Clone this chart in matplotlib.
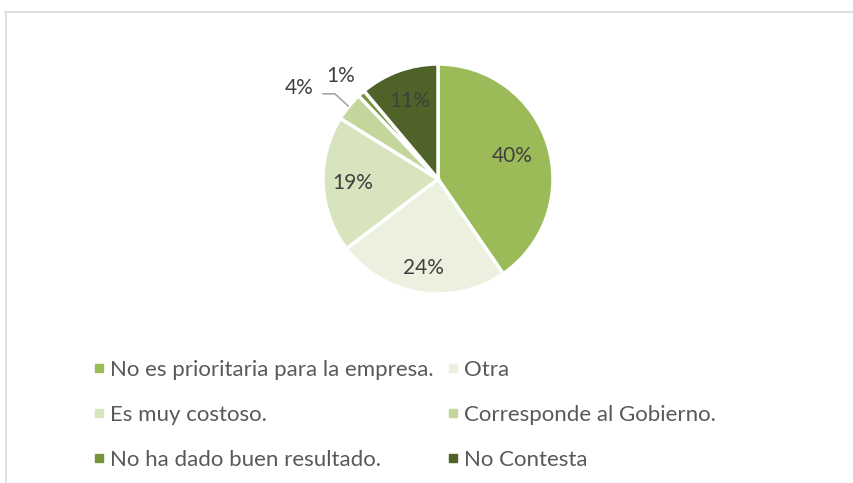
import matplotlib.pyplot as plt
import numpy as np
from matplotlib.lines import Line2D

plt.rcParams['font.family'] = ['Lato', 'DejaVu Sans']

categories = ["No es prioritaria para la empresa.", "Otra", "Es muy costoso.",
              "Corresponde al Gobierno.", "No ha dado buen resultado.", "No Contesta"]
values = [40, 24, 19, 4, 1, 11]
colors = ["#9BBB59", "#EBF1DE", "#D7E4BD", "#C3D69B", "#77933C", "#4F6228"]

W, H = 854, 483
fig = plt.figure(figsize=(W / 100, H / 100), dpi=100)

# outer chart border (light gray), only top and left visible
fig.add_artist(Line2D([5 / W, 1], [1 - 12 / H, 1 - 12 / H], color="#D9D9D9", lw=1.2))
fig.add_artist(Line2D([6 / W, 6 / W], [0, 1 - 12 / H], color="#D9D9D9", lw=1.2))

# pie: center (438,179) px, radius 115 px
r = 115
cx, cy = 438, H - 179
half = 1.5 * r
ax = fig.add_axes([(cx - half) / W, (cy - half) / H, 2 * half / W, 2 * half / H])
wedges, _ = ax.pie(values, colors=colors, startangle=90, counterclock=False,
                   wedgeprops=dict(edgecolor="white", linewidth=2.5))
ax.set_xlim(-1.5, 1.5)
ax.set_ylim(-1.5, 1.5)
ax.set_aspect("equal")
ax.axis("off")

txt_color = "#404040"
fs = 15
label_dist = [0.68, 0.78, 0.74, None, None, 0.72]
for w, v, d in zip(wedges, values, label_dist):
    mid = np.deg2rad((w.theta1 + w.theta2) / 2)
    lab = f"{v}%"
    if d is not None:
        ax.text(d * np.cos(mid), d * np.sin(mid), lab, ha="center", va="center",
                fontsize=fs, color=txt_color)
    elif v == 4:
        # leader line: from slice edge, diagonal up-left, then horizontal
        x0, y0 = np.cos(mid), np.sin(mid)
        x1, y1 = x0 - 0.12, y0 + 0.11
        x2 = x1 - 0.11
        ax.plot([x0, x1, x2], [y0, y1, y1], color="#A6A6A6", lw=1.2,
                solid_capstyle="butt")
        ax.text(-1.21, 0.79, lab, ha="center", va="center", fontsize=fs, color=txt_color)
    else:
        ax.text(-0.85, 0.90, lab, ha="center", va="center", fontsize=fs, color=txt_color)

# legend, row-wise order in 2 columns
order = [0, 2, 4, 1, 3, 5]
handles = [Line2D([], [], marker="s", linestyle="none", markersize=5.5,
                  color=colors[i]) for i in order]
labels = [categories[i] for i in order]
fig.legend(handles, labels, ncol=2, loc="upper left",
           bbox_to_anchor=(70 / W, 1 - 340 / H), frameon=False,
           fontsize=16, labelcolor="#595959", handlelength=0.8,
           handletextpad=0.1, labelspacing=1.12, columnspacing=0.45)

fig.savefig("out.png", dpi=100, facecolor="white")
